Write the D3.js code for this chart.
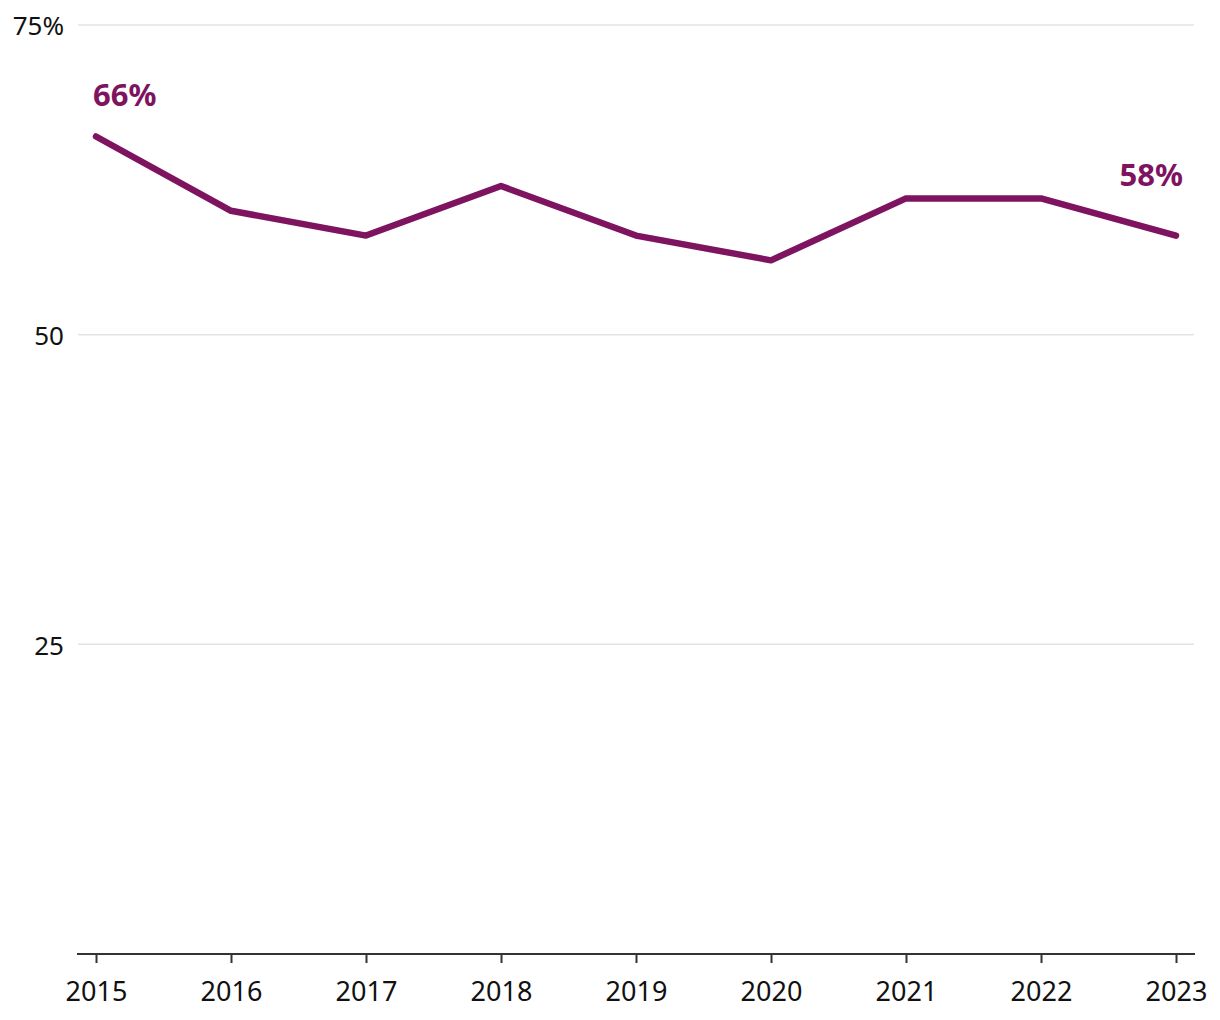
<!DOCTYPE html>
<html><head><meta charset="utf-8">
<script src="https://cdn.jsdelivr.net/npm/d3@7"></script>
<style>
body{margin:0;background:#fff;}
svg{display:block;font-family:"Noto Sans",sans-serif;}
</style></head>
<body><svg id="c" width="1220" height="1020"></svg>
<script>
const years = [2015,2016,2017,2018,2019,2020,2021,2022,2023];
const values = [66,60,58,62,58,56,61,61,58];
const yTicks = [25,50,75];
const yTickLabels = ["25","50","75%"];
const endLabels = [{year:2015,text:"66%"},{year:2023,text:"58%"}];

const svg = d3.select("#c");
const color = "#7e1360";
const x = d3.scalePoint().domain(years).range([96,1176]);
const y = d3.scaleLinear().domain([0,75]).range([954,25]);

// gridlines
svg.append("g").selectAll("line").data(yTicks).join("line")
  .attr("x1",78).attr("x2",1194)
  .attr("y1",d=>y(d)).attr("y2",d=>y(d))
  .attr("stroke","#e3e3e3").attr("stroke-width",1.5);

svg.append("g").selectAll("text").data(yTicks).join("text")
  .attr("x",64).attr("y",d=>y(d)).attr("dy","0.4em")
  .attr("text-anchor","end").attr("font-size",26).attr("fill","#111")
  .text((d,i)=>yTickLabels[i]);

// x axis
const xa = svg.append("g").attr("transform","translate(0,954)")
  .call(d3.axisBottom(x).tickSize(9).tickPadding(19).tickSizeOuter(0));
xa.select(".domain").remove();
xa.selectAll(".tick line").attr("stroke","#333").attr("stroke-width",2);
xa.selectAll(".tick text").attr("font-size",27).attr("fill","#111").attr("font-family","Noto Sans, sans-serif");
svg.append("line").attr("x1",77).attr("x2",1195).attr("y1",954).attr("y2",954)
  .attr("stroke","#333").attr("stroke-width",2);

// line
const line = d3.line().x((d,i)=>x(years[i])).y(d=>y(d));
svg.append("path").datum(values).attr("d",line)
  .attr("fill","none").attr("stroke",color).attr("stroke-width",6.5)
  .attr("stroke-linecap","round").attr("stroke-linejoin","round");

// end labels
svg.append("text").attr("x",x(endLabels[0].year)-3).attr("y",106)
  .attr("text-anchor","start").attr("font-size",31).attr("font-weight","bold").attr("fill",color)
  .text(endLabels[0].text);
svg.append("text").attr("x",x(endLabels[1].year)+7).attr("y",186)
  .attr("text-anchor","end").attr("font-size",31).attr("font-weight","bold").attr("fill",color)
  .text(endLabels[1].text);
</script></body></html>
